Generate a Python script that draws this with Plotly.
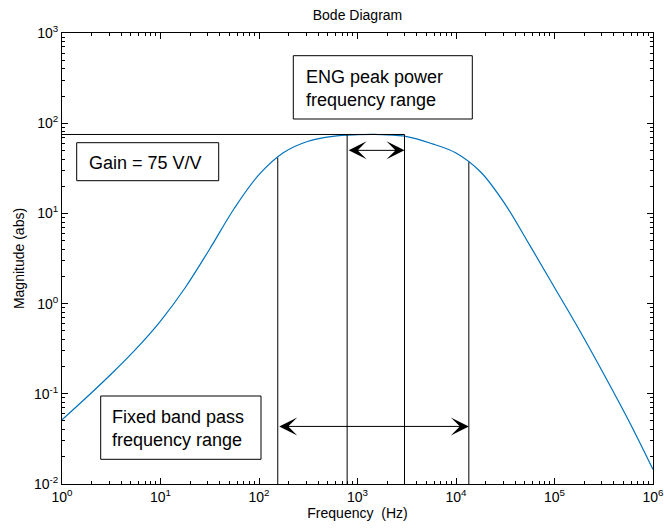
import math
import plotly.graph_objects as go

# ---- data ----
freq_hz = [1, 1.78, 3.16, 5.62, 10, 17.8, 31.6, 56.2, 100, 178, 316, 562, 1000,
           1500, 1780, 3160, 5620, 10000, 17800, 31600, 56200, 100000, 178000,
           316000, 562000, 1000000]
magnitude = [0.0515, 0.0916, 0.166, 0.313, 0.641, 1.50, 4.03, 11.4, 26.9, 47.3, 63.1,
             71.6, 74.5, 75.0, 74.5, 71.1, 59.6, 46.8, 28.8, 12.6, 4.42, 1.51, 0.513,
             0.166, 0.0513, 0.0145]

gain = 75
marker_freqs = [155, 785, 3000, 13500]
marker_tops = [41.5, 75, 75, 37]
eng_range = [785, 3000]
eng_arrow_y = 50
band_range = [155, 13500]
band_arrow_y = 0.0435

x_tickvals = [1, 10, 100, 1000, 1e4, 1e5, 1e6]
x_ticktext = ["10<sup>0</sup>", "10<sup>1</sup>", "10<sup>2</sup>", "10<sup>3</sup>",
              "10<sup>4</sup>", "10<sup>5</sup>", "10<sup>6</sup>"]
y_tickvals = [0.01, 0.1, 1, 10, 100, 1000]
y_ticktext = ["10<sup>-2</sup>", "10<sup>-1</sup>", "10<sup>0</sup>", "10<sup>1</sup>",
              "10<sup>2</sup>", "10<sup>3</sup>"]

FONT = "Liberation Sans, Arial, Helvetica, sans-serif"

def minor_vals(decades):
    return [m * 10 ** d for d in decades for m in range(2, 10)]

fig = go.Figure()

fig.add_trace(go.Scatter(x=freq_hz, y=magnitude, mode="lines",
                         line=dict(color="#0072BD", width=1.2, shape="spline", smoothing=1.0),
                         hoverinfo="skip", showlegend=False))

# horizontal gain line
fig.add_trace(go.Scatter(x=[1, eng_range[1]], y=[gain, gain], mode="lines",
                         line=dict(color="black", width=1), showlegend=False, hoverinfo="skip"))

# vertical marker lines
for f, top in zip(marker_freqs, marker_tops):
    fig.add_trace(go.Scatter(x=[f, f], y=[0.01, top], mode="lines",
                             line=dict(color="black", width=1), showlegend=False, hoverinfo="skip"))

# double arrows
def double_arrow(f0, f1, yv):
    fig.add_annotation(x=math.log10(f1), y=math.log10(yv), ax=math.log10(f0), ay=math.log10(yv),
                       xref="x", yref="y", axref="x", ayref="y", text="", showarrow=True,
                       arrowside="end+start", arrowhead=3, startarrowhead=3,
                       arrowsize=3.0, startarrowsize=3.0, arrowwidth=1, arrowcolor="black",
                       standoff=0, startstandoff=0)

double_arrow(eng_range[0], eng_range[1], eng_arrow_y)
double_arrow(band_range[0], band_range[1], band_arrow_y)

# text boxes (pixel positions converted to paper coordinates)
L, R, T, B = 62, 653, 33, 484
W, H = 664, 532
def px(xp):
    return (xp - L) / (R - L)
def py(yp):
    return (B - yp) / (B - T)

boxes = [
    (293.3, 55.7, 472.3, 119.0, 304.0, "ENG peak power<br>frequency range"),
    (76.7, 142.7, 218.7, 180.7, 86.5, "Gain = 75 V/V"),
    (100.7, 396.0, 261.0, 459.3, 110.0, "Fixed band pass<br>frequency range"),
]
for x0, y0, x1, y1, tx, txt in boxes:
    fig.add_shape(type="rect", xref="paper", yref="paper",
                  x0=px(x0), x1=px(x1), y0=py(y1), y1=py(y0),
                  line=dict(color="black", width=1), fillcolor="white", layer="above")
    fig.add_annotation(xref="paper", yref="paper", x=px(tx), y=py((y0 + y1) / 2 + 1),
                       xanchor="left", yanchor="middle", align="left", showarrow=False,
                       text=txt, font=dict(family=FONT, size=18, color="black"))

axis_common = dict(type="log", showgrid=False, zeroline=False, showline=True,
                   linecolor="black", linewidth=1, mirror="allticks",
                   ticks="inside", ticklen=6, tickcolor="black", tickwidth=1,
                   tickfont=dict(family=FONT, size=14, color="black"),
                   ticklabeloverflow="allow",
                   automargin=False)

fig.update_xaxes(**axis_common, range=[0, 6], tickmode="array",
                 tickvals=x_tickvals, ticktext=x_ticktext,
                 minor=dict(ticks="inside", ticklen=3, tickcolor="black", tickmode="array",
                            tickvals=minor_vals(range(0, 6)), showgrid=False),
                 title=dict(text="Frequency  (Hz)", font=dict(family=FONT, size=14, color="black"),
                            standoff=4))
fig.update_yaxes(**axis_common, range=[-2, 3], tickmode="array",
                 tickvals=y_tickvals, ticktext=y_ticktext,
                 minor=dict(ticks="inside", ticklen=3, tickcolor="black", tickmode="array",
                            tickvals=minor_vals(range(-2, 3)), showgrid=False),
                 title=dict(text="Magnitude (abs)", font=dict(family=FONT, size=14, color="black"),
                            standoff=6))

fig.update_layout(
    width=W, height=H,
    margin=dict(l=L, r=W - R, t=T, b=H - B),
    paper_bgcolor="white", plot_bgcolor="white",
    title=dict(text="Bode Diagram", x=(L + R) / 2 / W, xanchor="center",
               yref="container", y=1 - 15 / H, yanchor="middle",
               font=dict(family=FONT, size=14, color="black")),
    showlegend=False,
)

fig.write_html("out.html")
